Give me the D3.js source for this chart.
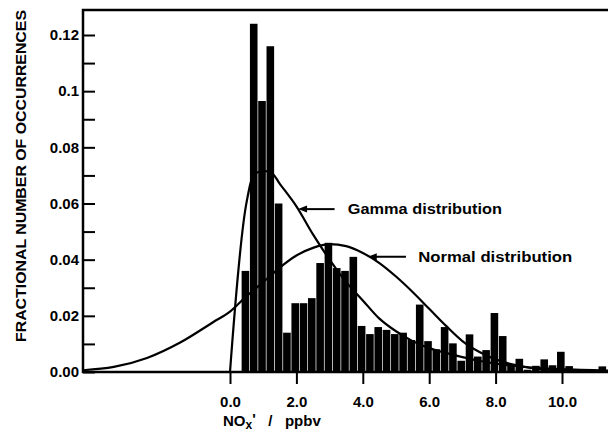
<!DOCTYPE html>
<html>
<head>
<meta charset="utf-8">
<script src="https://cdn.jsdelivr.net/npm/d3@7"></script>
<style>
  html, body { margin: 0; padding: 0; background: #fff; }
  svg { display: block; }
  text { font-family: "Liberation Sans", Arial, sans-serif; font-weight: bold; fill: #000; }
</style>
</head>
<body>
<svg id="chart" width="608" height="433"></svg>
<script>
// ---------- data ----------
const binStart = 0.35;      // left edge of first histogram bin (ppbv)
const binWidth = 0.25;      // histogram bin width (ppbv)
const binValues = [
  0.036, 0.124, 0.0965, 0.116, 0.060, 0.014, 0.0245, 0.0245, 0.0263, 0.0388,
  0.046, 0.037, 0.036, 0.041, 0.0164, 0.0135, 0.016, 0.015, 0.0135, 0.014,
  0.0114, 0.024, 0.011, 0.0081, 0.016, 0.0102, 0.004, 0.0134, 0.0055, 0.0078,
  0.021, 0.0128, 0.0028, 0.0047, 0.0008, 0.0022, 0.0045, 0.0024, 0.0072, 0.0021,
  0.0004, 0.0004, 0.0002, 0.002
];
const gammaX = [0, 0.5, 0.75, 1.0, 1.25, 1.5, 2.0, 2.5, 3.0, 3.5, 4.0, 4.5, 5.0, 5.5, 6.0, 6.5, 7.0, 7.5, 8.0, 9.0, 10.0, 11.5];
const gammaY = [0, 0.0605, 0.0705, 0.0715, 0.071, 0.067, 0.059, 0.049, 0.040, 0.032, 0.0255, 0.019, 0.0145, 0.011, 0.0085, 0.0068, 0.0053, 0.004, 0.003, 0.0017, 0.001, 0.0005];
const normalX = [-4.45, -3.5, -2.5, -1.5, -0.5, 0, 0.5, 1.0, 1.5, 2.0, 2.5, 3.0, 3.5, 4.0, 4.5, 5.0, 5.5, 6.0, 6.5, 7.0, 7.5, 8.0, 8.5, 9.0, 10.0, 11.5];
const normalY = [0.0006, 0.0018, 0.005, 0.0105, 0.0178, 0.0215, 0.027, 0.032, 0.0372, 0.0415, 0.0442, 0.0455, 0.0448, 0.0424, 0.0388, 0.034, 0.0285, 0.0225, 0.0165, 0.011, 0.0072, 0.0045, 0.0027, 0.0015, 0.0005, 0.0001];
const xTickValues = [0, 2, 4, 6, 8, 10];
const xTickLabels = ["0.0", "2.0", "4.0", "6.0", "8.0", "10.0"];
const yTickValues = [0, 0.02, 0.04, 0.06, 0.08, 0.10, 0.12];
const yTickLabels = ["0.00", "0.02", "0.04", "0.06", "0.08", "0.1", "0.12"];
const yMinorValues = [0.01, 0.03, 0.05, 0.07, 0.09, 0.11];
const labels = {
  gamma: "Gamma distribution",
  normal: "Normal distribution",
  yTitle: "FRACTIONAL NUMBER OF OCCURRENCES"
};
// annotation anchors in data units: [arrow tip x, arrow tail x, y, text x]
const gammaNote = [2.05, 3.15, 0.058, 3.55];
const normalNote = [4.15, 5.3, 0.041, 5.67];

// ---------- layout ----------
const L = 83, R = 608, T = 10, B = 372;
const x = d3.scaleLinear().domain([0, 10]).range([230, 562]);
const y = d3.scaleLinear().domain([0, 0.12]).range([B, 35]);

const svg = d3.select("#chart");
svg.append("defs").append("clipPath").attr("id", "plotclip")
  .append("rect").attr("x", L).attr("y", T).attr("width", R - L).attr("height", B - T);

// bars
const bars = binValues.map((v, i) => ({ x0: binStart + i * binWidth, v }));
svg.append("g").attr("clip-path", "url(#plotclip)")
  .selectAll("rect").data(bars).join("rect")
  .attr("x", d => x(d.x0))
  .attr("y", d => y(d.v))
  .attr("width", d => Math.max(0, x(d.x0 + binWidth) - x(d.x0) - 0.7))
  .attr("height", d => B - y(d.v))
  .attr("fill", "#000");

// curves
const gammaLine = d3.line().x(d => x(d[0])).y(d => y(d[1])).curve(d3.curveCatmullRom.alpha(0.5));
const normalLine = d3.line().x(d => x(d[0])).y(d => y(d[1])).curve(d3.curveMonotoneX);
const cg = svg.append("g").attr("clip-path", "url(#plotclip)");
cg.append("path").attr("d", gammaLine(gammaX.map((v, i) => [v, gammaY[i]])))
  .attr("fill", "none").attr("stroke", "#000").attr("stroke-width", 2.2);
cg.append("path").attr("d", normalLine(normalX.map((v, i) => [v, normalY[i]])))
  .attr("fill", "none").attr("stroke", "#000").attr("stroke-width", 2.2);

// frame
svg.append("path")
  .attr("d", `M${R},${T}H${L}V${B}H${R}`)
  .attr("fill", "none").attr("stroke", "#000").attr("stroke-width", 2.5);

// x axis
const xAxis = d3.axisBottom(x).tickValues(xTickValues)
  .tickFormat((d, i) => xTickLabels[i]).tickSizeInner(12).tickSizeOuter(0).tickPadding(12);
const gx = svg.append("g").attr("transform", `translate(0,${B})`).call(xAxis);
gx.select(".domain").remove();
gx.selectAll(".tick line").attr("stroke", "#000").attr("stroke-width", 2);
gx.selectAll(".tick text").attr("font-size", 15).attr("font-family", "Liberation Sans, Arial, sans-serif").attr("font-weight", "bold");

// y axis
const yAxis = d3.axisLeft(y).tickValues(yTickValues)
  .tickFormat((d, i) => yTickLabels[i]).tickSizeInner(-12).tickSizeOuter(0).tickPadding(4);
const gy = svg.append("g").attr("transform", `translate(${L},0)`).call(yAxis);
gy.select(".domain").remove();
gy.selectAll(".tick line").attr("stroke", "#000").attr("stroke-width", 2);
gy.selectAll(".tick text").attr("font-size", 15).attr("font-family", "Liberation Sans, Arial, sans-serif").attr("font-weight", "bold");
const yMinor = d3.axisLeft(y).tickValues(yMinorValues).tickFormat("").tickSizeInner(-12).tickSizeOuter(0);
const gym = svg.append("g").attr("transform", `translate(${L},0)`).call(yMinor);
gym.select(".domain").remove();
gym.selectAll(".tick line").attr("stroke", "#000").attr("stroke-width", 2);

// y title
svg.append("text")
  .attr("transform", `translate(26,${(T + B) / 2 - 15}) rotate(-90)`)
  .attr("text-anchor", "middle")
  .attr("font-size", 15)
  .attr("textLength", 332).attr("lengthAdjust", "spacingAndGlyphs")
  .text(labels.yTitle);

// x title: NOx' / ppbv
const xt = svg.append("text").attr("x", 223).attr("y", 426).attr("font-size", 15)
  .style("white-space", "pre");
xt.append("tspan").text("NO");
xt.append("tspan").attr("dy", 3).attr("font-size", 12).text("x");
xt.append("tspan").attr("dy", -5).text("'");
xt.append("tspan").attr("dy", 2).text("   /   ppbv");

// annotations with arrows
function note(n, txt) {
  const [tip, tail, yv, tx] = n;
  const px = x(tip), py = y(yv);
  svg.append("line").attr("x1", px + 5).attr("x2", x(tail)).attr("y1", py).attr("y2", py)
    .attr("stroke", "#000").attr("stroke-width", 2);
  svg.append("path").attr("d", `M${px},${py}L${px + 9},${py - 3.5}L${px + 9},${py + 3.5}Z`).attr("fill", "#000");
  svg.append("text").attr("x", x(tx)).attr("y", py + 5).attr("font-size", 14)
    .attr("textLength", 154).attr("lengthAdjust", "spacingAndGlyphs")
    .text(txt);
}
note(gammaNote, labels.gamma);
note(normalNote, labels.normal);
</script>
</body>
</html>
